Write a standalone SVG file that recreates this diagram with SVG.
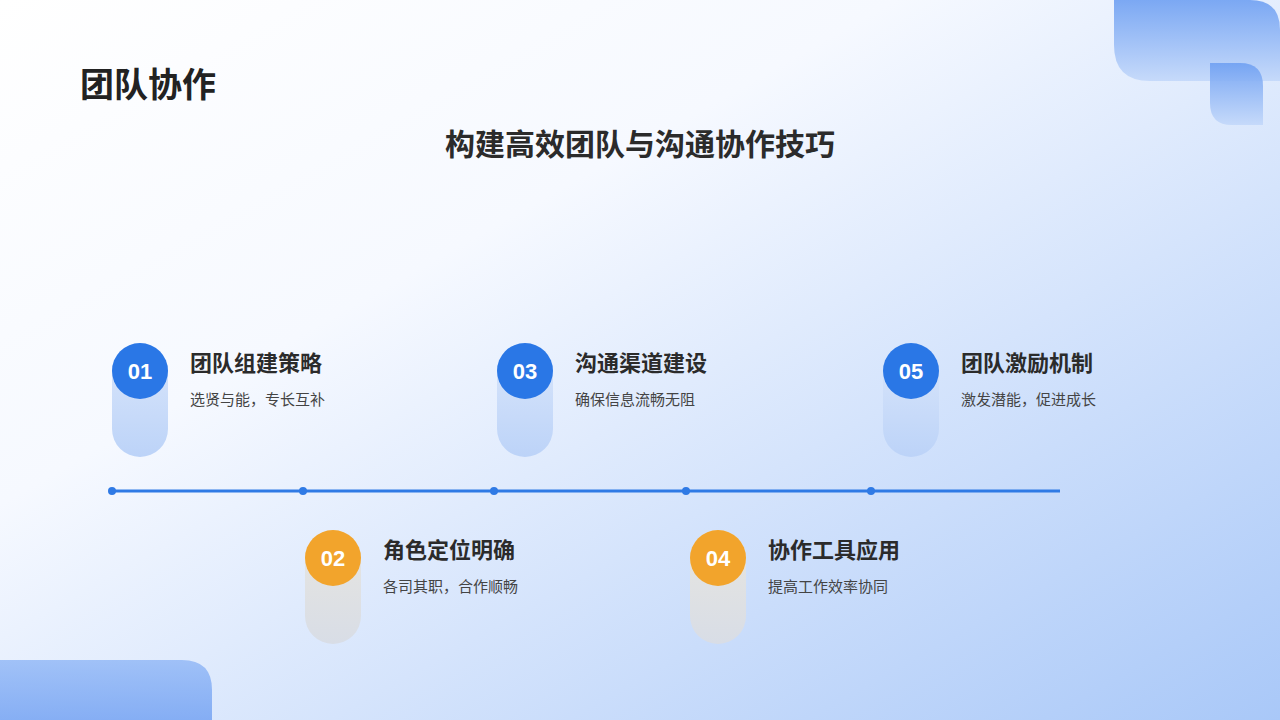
<svg xmlns="http://www.w3.org/2000/svg" width="1280" height="720" viewBox="0 0 1280 720">
<defs>
<linearGradient id="bg" x1="0" y1="0" x2="1" y2="1"><stop offset="0" stop-color="#ffffff"/><stop offset="0.35" stop-color="#f6f9ff"/><stop offset="1" stop-color="#a9c8f8"/></linearGradient>
<linearGradient id="dec" x1="0" y1="0" x2="0" y2="1"><stop offset="0" stop-color="#6fa0f2"/><stop offset="1" stop-color="#c3d8fa"/></linearGradient>
<linearGradient id="decb" x1="0" y1="0" x2="0" y2="1"><stop offset="0" stop-color="#8fb6f6"/><stop offset="1" stop-color="#6f9ff2"/></linearGradient>
<linearGradient id="pb" x1="0" y1="0" x2="0" y2="1"><stop offset="0" stop-color="#dbe7fb"/><stop offset="1" stop-color="#bcd3f8"/></linearGradient>
<linearGradient id="po" x1="0" y1="0" x2="0" y2="1"><stop offset="0" stop-color="#e8e6e0"/><stop offset="1" stop-color="#d8dde6"/></linearGradient>
<style>
text{font-family:"Noto Sans CJK SC","Liberation Sans",sans-serif}
.t{font-size:22px;font-weight:bold;fill:#2b2b2b}
.s{font-size:15px;fill:#444}
.n{font-size:22px;font-weight:bold;fill:#fff;font-family:"Liberation Sans",sans-serif}
.dot{fill:#2f7ae5}
</style>
</defs>
<rect width="1280" height="720" fill="url(#bg)"/>
<path d="M1114 0H1250Q1280 0 1280 30V81H1150Q1114 81 1114 45Z" fill="url(#dec)" opacity="0.9"/>
<path d="M1210 63H1240Q1263 63 1263 86V125H1232Q1210 125 1210 103Z" fill="url(#dec)" opacity="0.9"/>
<path d="M0 660H182Q212 660 212 690V720H0Z" fill="url(#decb)" opacity="0.8"/>
<text x="80" y="97" style="font-size:34px;font-weight:bold;fill:#222">团队协作</text>
<text x="640" y="155" text-anchor="middle" style="font-size:30px;font-weight:bold;fill:#2b2b2b">构建高效团队与沟通协作技巧</text>
<g id="connectors">
<line x1="112" y1="491" x2="1060" y2="491" stroke="#2f7ae5" stroke-width="3"/>
<circle class="dot" cx="112" cy="491" r="4"/><circle class="dot" cx="303" cy="491" r="4"/><circle class="dot" cx="494" cy="491" r="4"/><circle class="dot" cx="686" cy="491" r="4"/><circle class="dot" cx="871" cy="491" r="4"/>
</g>
<g id="n1"><rect x="112" y="343" width="56" height="114" rx="28" fill="url(#pb)"/><circle cx="140" cy="371" r="28" fill="#2a77e6"/><text class="n" x="140" y="379" text-anchor="middle">01</text><text class="t" x="190" y="371">团队组建策略</text><text class="s" x="190" y="405">选贤与能，专长互补</text></g>
<g id="n2"><rect x="305" y="530" width="56" height="114" rx="28" fill="url(#po)"/><circle cx="333" cy="558" r="28" fill="#f2a42c"/><text class="n" x="333" y="566" text-anchor="middle">02</text><text class="t" x="383" y="558">角色定位明确</text><text class="s" x="383" y="592">各司其职，合作顺畅</text></g>
<g id="n3"><rect x="497" y="343" width="56" height="114" rx="28" fill="url(#pb)"/><circle cx="525" cy="371" r="28" fill="#2a77e6"/><text class="n" x="525" y="379" text-anchor="middle">03</text><text class="t" x="575" y="371">沟通渠道建设</text><text class="s" x="575" y="405">确保信息流畅无阻</text></g>
<g id="n4"><rect x="690" y="530" width="56" height="114" rx="28" fill="url(#po)"/><circle cx="718" cy="558" r="28" fill="#f2a42c"/><text class="n" x="718" y="566" text-anchor="middle">04</text><text class="t" x="768" y="558">协作工具应用</text><text class="s" x="768" y="592">提高工作效率协同</text></g>
<g id="n5"><rect x="883" y="343" width="56" height="114" rx="28" fill="url(#pb)"/><circle cx="911" cy="371" r="28" fill="#2a77e6"/><text class="n" x="911" y="379" text-anchor="middle">05</text><text class="t" x="961" y="371">团队激励机制</text><text class="s" x="961" y="405">激发潜能，促进成长</text></g>
</svg>
